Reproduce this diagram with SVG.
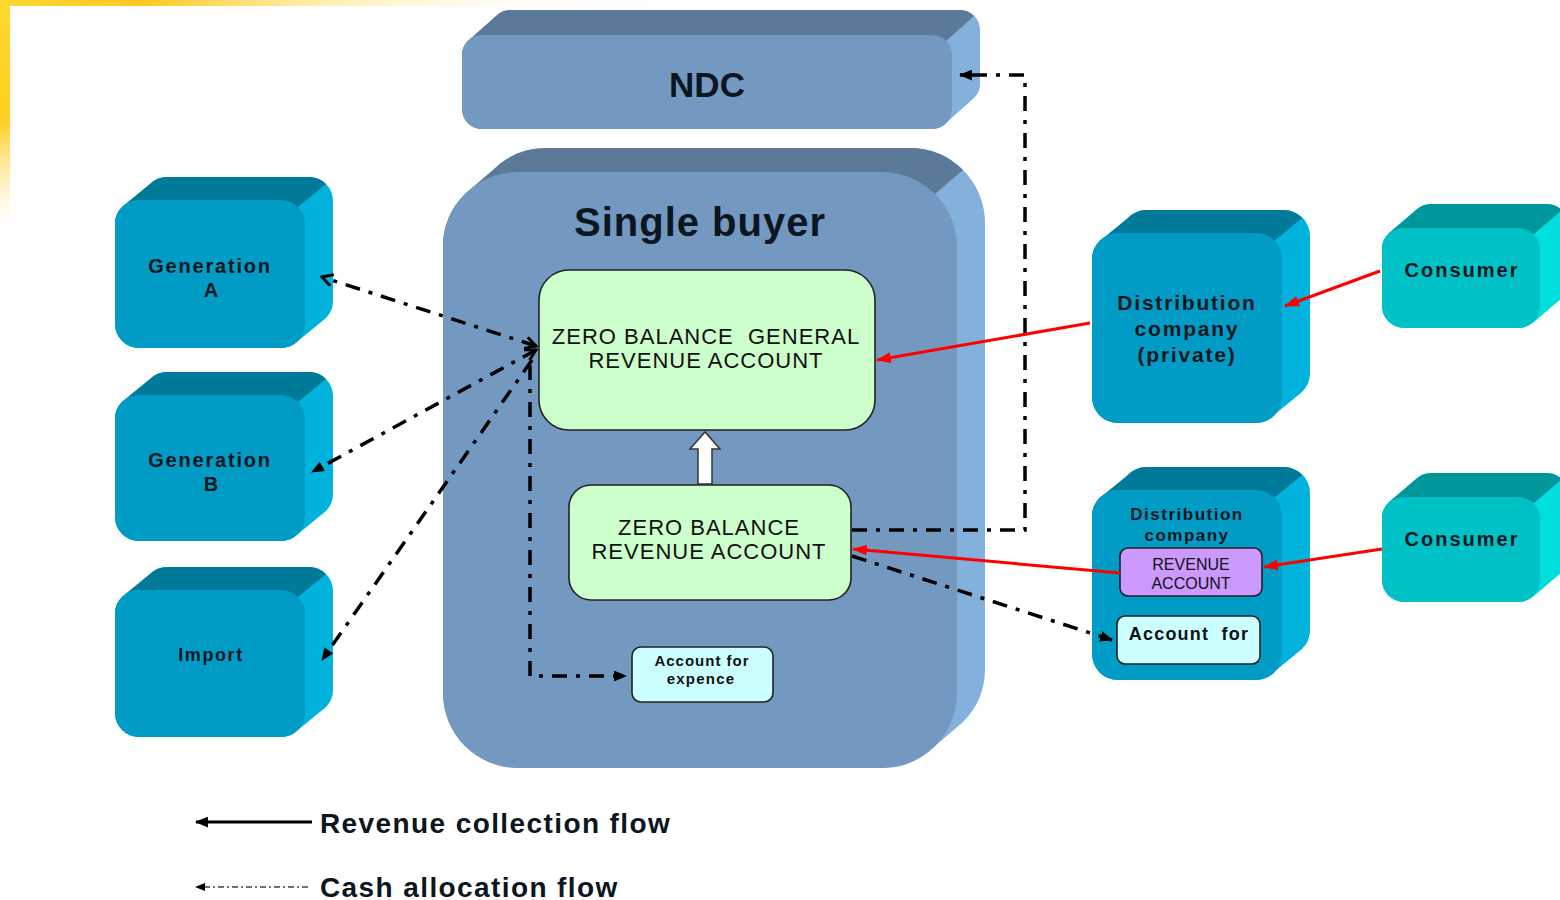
<svg xmlns="http://www.w3.org/2000/svg" width="1560" height="900" viewBox="0 0 1560 900">
<defs>
<linearGradient id="gTop" x1="0" y1="0" x2="1" y2="0">
<stop offset="0" stop-color="#ffd830"/><stop offset="0.13" stop-color="#ffc820"/><stop offset="0.28" stop-color="#ffe890" stop-opacity="0.8"/><stop offset="0.45" stop-color="#fff8e0" stop-opacity="0.4"/><stop offset="0.6" stop-color="#ffffff" stop-opacity="0"/>
</linearGradient>
<linearGradient id="gLeft" x1="0" y1="0" x2="0" y2="1">
<stop offset="0" stop-color="#ffd830"/><stop offset="0.5" stop-color="#ffcf20"/><stop offset="0.75" stop-color="#ffe9a0" stop-opacity="0.7"/><stop offset="1" stop-color="#ffffff" stop-opacity="0"/>
</linearGradient>
<marker id="tri" viewBox="0 0 12 10" refX="11" refY="5" markerWidth="13" markerHeight="11" orient="auto-start-reverse" markerUnits="userSpaceOnUse"><path d="M0,0 L12,5 L0,10 z" fill="#000"/></marker>
<marker id="vee" viewBox="0 0 12 12" refX="10" refY="6" markerWidth="14" markerHeight="14" orient="auto-start-reverse" markerUnits="userSpaceOnUse"><path d="M1,1 L10,6 L1,11" fill="none" stroke="#000" stroke-width="2.5"/></marker>
<marker id="red" viewBox="0 0 14 10" refX="13" refY="5" markerWidth="15" markerHeight="11" orient="auto" markerUnits="userSpaceOnUse"><path d="M0,0 L14,5 L0,10 z" fill="#ff0000"/></marker>
<marker id="smallTri" viewBox="0 0 10 8" refX="9" refY="4" markerWidth="10" markerHeight="8" orient="auto" markerUnits="userSpaceOnUse"><path d="M0,0 L10,4 L0,8 z" fill="#000"/></marker>
</defs>
<style>
.gen .side{fill:#00b2dc}.gen .top{fill:#007a98}.gen .front{fill:#009cc6}
.con .side{fill:#00dede}.con .top{fill:#00979a}.con .front{fill:#00c2c6}
.blu .side{fill:#84b0dc}.blu .top{fill:#5b7a99}.blu .front{fill:#7399c0}
.lbl{font-family:"Liberation Sans",Arial,sans-serif;font-weight:bold;fill:#0b1620;text-anchor:middle}
.acc{font-family:"Liberation Sans",Arial,sans-serif;fill:#111;text-anchor:middle}
.box{stroke:#222;stroke-width:1.6}
.cash{fill:none;stroke:#000;stroke-width:3.5;stroke-dasharray:15 9 4 9}
.rev{fill:none;stroke:#ff0000;stroke-width:3}
</style>
<rect x="0" y="0" width="1560" height="900" fill="#fff"/>
<rect x="0" y="0" width="1100" height="6" fill="url(#gTop)"/>
<rect x="0" y="0" width="10" height="240" fill="url(#gLeft)"/>

<g id="ndc" class="blu">
<path class="side" d="M462,109 L462,55 A20,20 0 0 1 468,41 L496,16 A20,20 0 0 1 510,10 L960,10 A20,20 0 0 1 980,30 L980,84 A20,20 0 0 1 974,98 L946,123 A20,20 0 0 1 932,129 L482,129 A20,20 0 0 1 462,109 Z"/>
<path class="top" d="M462,55 A20,20 0 0 1 468,41 L496,16 A20,20 0 0 1 510,10 L960,10 A20,20 0 0 1 974,16 L946,41 L468,41 Z"/>
<rect class="front" x="462" y="35" width="490" height="94" rx="20"/>
<text class="lbl" x="707" y="97" font-size="35">NDC</text>
</g>

<g id="single-buyer" class="blu">
<path class="side" d="M443,693 L443,247 A75,75 0 0 1 465,194 L493,170 A75,75 0 0 1 546,148 L910,148 A75,75 0 0 1 985,223 L985,669 A75,75 0 0 1 963,722 L935,746 A75,75 0 0 1 882,768 L518,768 A75,75 0 0 1 443,693 Z"/>
<path class="top" d="M443,247 A75,75 0 0 1 465,194 L493,170 A75,75 0 0 1 546,148 L910,148 A75,75 0 0 1 963,170 L935,194 L465,194 Z"/>
<rect class="front" x="443" y="172" width="514" height="596" rx="75"/>
<text class="lbl" x="700" y="236" font-size="40" letter-spacing="1">Single buyer</text>
</g>

<g id="gen-a" class="gen">
<path class="side" d="M115,324 L115,224 A24,24 0 0 1 122,207 L150,184 A24,24 0 0 1 167,177 L309,177 A24,24 0 0 1 333,201 L333,301 A24,24 0 0 1 326,318 L298,341 A24,24 0 0 1 281,348 L139,348 A24,24 0 0 1 115,324 Z"/>
<path class="top" d="M115,224 A24,24 0 0 1 122,207 L150,184 A24,24 0 0 1 167,177 L309,177 A24,24 0 0 1 326,184 L298,207 L122,207 Z"/>
<rect class="front" x="115" y="200" width="190" height="148" rx="24"/>
<text class="lbl" x="210" y="273" font-size="20" letter-spacing="1.8">Generation</text>
<text class="lbl" x="211" y="297" font-size="20">A</text>
</g>

<g id="gen-b" class="gen">
<path class="side" d="M115,517 L115,419 A24,24 0 0 1 122,402 L150,379 A24,24 0 0 1 167,372 L309,372 A24,24 0 0 1 333,396 L333,494 A24,24 0 0 1 326,511 L298,534 A24,24 0 0 1 281,541 L139,541 A24,24 0 0 1 115,517 Z"/>
<path class="top" d="M115,419 A24,24 0 0 1 122,402 L150,379 A24,24 0 0 1 167,372 L309,372 A24,24 0 0 1 326,379 L298,402 L122,402 Z"/>
<rect class="front" x="115" y="395" width="190" height="146" rx="24"/>
<text class="lbl" x="210" y="467" font-size="20" letter-spacing="1.8">Generation</text>
<text class="lbl" x="211" y="491" font-size="20">B</text>
</g>

<g id="import" class="gen">
<path class="side" d="M115,713 L115,614 A24,24 0 0 1 122,597 L150,574 A24,24 0 0 1 167,567 L309,567 A24,24 0 0 1 333,591 L333,690 A24,24 0 0 1 326,707 L298,730 A24,24 0 0 1 281,737 L139,737 A24,24 0 0 1 115,713 Z"/>
<path class="top" d="M115,614 A24,24 0 0 1 122,597 L150,574 A24,24 0 0 1 167,567 L309,567 A24,24 0 0 1 326,574 L298,597 L122,597 Z"/>
<rect class="front" x="115" y="590" width="190" height="147" rx="24"/>
<text class="lbl" x="211" y="661" font-size="18" letter-spacing="1.6">Import</text>
</g>

<g id="dist-private" class="gen">
<path class="side" d="M1092,397 L1092,259 A26,26 0 0 1 1100,241 L1128,218 A26,26 0 0 1 1146,210 L1284,210 A26,26 0 0 1 1310,236 L1310,374 A26,26 0 0 1 1302,392 L1274,415 A26,26 0 0 1 1256,423 L1118,423 A26,26 0 0 1 1092,397 Z"/>
<path class="top" d="M1092,259 A26,26 0 0 1 1100,241 L1128,218 A26,26 0 0 1 1146,210 L1284,210 A26,26 0 0 1 1302,218 L1274,241 L1100,241 Z"/>
<rect class="front" x="1092" y="233" width="190" height="190" rx="26"/>
<text class="lbl" x="1187" y="310" font-size="21" letter-spacing="1.8">Distribution</text>
<text class="lbl" x="1187" y="336" font-size="21" letter-spacing="1.8">company</text>
<text class="lbl" x="1187" y="362" font-size="21" letter-spacing="1.8">(private)</text>
</g>

<g id="dist" class="gen">
<path class="side" d="M1092,654 L1092,516 A26,26 0 0 1 1100,498 L1128,475 A26,26 0 0 1 1146,467 L1284,467 A26,26 0 0 1 1310,493 L1310,631 A26,26 0 0 1 1302,649 L1274,672 A26,26 0 0 1 1256,680 L1118,680 A26,26 0 0 1 1092,654 Z"/>
<path class="top" d="M1092,516 A26,26 0 0 1 1100,498 L1128,475 A26,26 0 0 1 1146,467 L1284,467 A26,26 0 0 1 1302,475 L1274,498 L1100,498 Z"/>
<rect class="front" x="1092" y="490" width="190" height="190" rx="26"/>
<text class="lbl" x="1187" y="520" font-size="17" letter-spacing="1.5">Distribution</text>
<text class="lbl" x="1187" y="541" font-size="17" letter-spacing="1.5">company</text>
</g>

<g id="revenue-account">
<rect class="box" x="1120" y="548" width="142" height="48" rx="8" fill="#cc99ff"/>
<text class="acc" x="1191" y="570" font-size="16">REVENUE</text>
<text class="acc" x="1191" y="589" font-size="16">ACCOUNT</text>
</g>

<g id="dist-account-for">
<rect class="box" x="1117" y="616" width="143" height="48" rx="8" fill="#ccffff"/>
<text class="acc" x="1189" y="640" font-size="18" font-weight="bold" letter-spacing="1.2" xml:space="preserve">Account  for</text>
</g>

<g id="consumer-1" class="con">
<path class="side" d="M1382,306 L1382,250 A22,22 0 0 1 1388,234 L1416,210 A22,22 0 0 1 1432,204 L1546,204 A22,22 0 0 1 1568,226 L1568,282 A22,22 0 0 1 1562,298 L1534,322 A22,22 0 0 1 1518,328 L1404,328 A22,22 0 0 1 1382,306 Z"/>
<path class="top" d="M1382,250 A22,22 0 0 1 1388,234 L1416,210 A22,22 0 0 1 1432,204 L1546,204 A22,22 0 0 1 1562,210 L1534,234 L1388,234 Z"/>
<rect class="front" x="1382" y="228" width="158" height="100" rx="22"/>
<text class="lbl" x="1462" y="277" font-size="20" letter-spacing="2">Consumer</text>
</g>

<g id="consumer-2" class="con">
<path class="side" d="M1382,580 L1382,519 A22,22 0 0 1 1388,503 L1416,479 A22,22 0 0 1 1432,473 L1546,473 A22,22 0 0 1 1568,495 L1568,556 A22,22 0 0 1 1562,572 L1534,596 A22,22 0 0 1 1518,602 L1404,602 A22,22 0 0 1 1382,580 Z"/>
<path class="top" d="M1382,519 A22,22 0 0 1 1388,503 L1416,479 A22,22 0 0 1 1432,473 L1546,473 A22,22 0 0 1 1562,479 L1534,503 L1388,503 Z"/>
<rect class="front" x="1382" y="497" width="158" height="105" rx="22"/>
<text class="lbl" x="1462" y="546" font-size="20" letter-spacing="2">Consumer</text>
</g>

<g id="zbgra">
<rect class="box" x="539" y="270" width="336" height="160" rx="30" fill="#ccffcc"/>
<text class="acc" x="706" y="344" font-size="22" letter-spacing="1" xml:space="preserve">ZERO BALANCE  GENERAL</text>
<text class="acc" x="706" y="368" font-size="22" letter-spacing="1">REVENUE ACCOUNT</text>
</g>

<g id="zbra">
<rect class="box" x="569" y="485" width="282" height="115" rx="22" fill="#ccffcc"/>
<text class="acc" x="709" y="535" font-size="22" letter-spacing="1">ZERO BALANCE</text>
<text class="acc" x="709" y="559" font-size="22" letter-spacing="1">REVENUE ACCOUNT</text>
</g>

<g id="account-expence">
<rect class="box" x="632" y="647" width="141" height="55" rx="9" fill="#ccffff"/>
<text class="acc" x="702" y="666" font-size="15" font-weight="bold" letter-spacing="1">Account for</text>
<text class="acc" x="701" y="684" font-size="15" font-weight="bold" letter-spacing="1.2">expence</text>
</g>

<g id="connectors">
<path d="M698,484 L698,449 L690,449 L705,432 L720,449 L712,449 L712,484 Z" fill="#fff" stroke="#333" stroke-width="1.5"/>
<path class="cash" d="M536,346 L322,277" marker-start="url(#vee)" marker-end="url(#vee)"/>
<path class="cash" d="M536,350 L312,472" marker-start="url(#vee)" marker-end="url(#tri)"/>
<path class="cash" d="M532,360 L322,660" marker-end="url(#tri)"/>
<path class="cash" d="M530,365 L530,676 L626,676" marker-end="url(#tri)"/>
<path class="cash" d="M852,530 L1025,530 L1025,75 L960,75" marker-end="url(#tri)"/>
<path class="cash" d="M852,556 L1112,640" marker-end="url(#tri)"/>
<path class="rev" d="M1090,323 L877,360" marker-end="url(#red)"/>
<path class="rev" d="M1380,271 L1285,306" marker-end="url(#red)"/>
<path class="rev" d="M1120,573 L853,549" marker-end="url(#red)"/>
<path class="rev" d="M1382,549 L1264,567" marker-end="url(#red)"/>
</g>

<g id="legend">
<path d="M312,822 L196,822" fill="none" stroke="#000" stroke-width="3" marker-end="url(#tri)"/>
<text x="320" y="833" font-family="Liberation Sans, Arial, sans-serif" font-weight="bold" font-size="28" letter-spacing="1.4" fill="#0b1620">Revenue collection flow</text>
<path d="M308,887 L196,887" fill="none" stroke="#444" stroke-width="1.5" stroke-dasharray="6 3 2 3" marker-end="url(#smallTri)"/>
<text x="320" y="897" font-family="Liberation Sans, Arial, sans-serif" font-weight="bold" font-size="28" letter-spacing="1.4" fill="#0b1620">Cash allocation flow</text>
</g>
</svg>
